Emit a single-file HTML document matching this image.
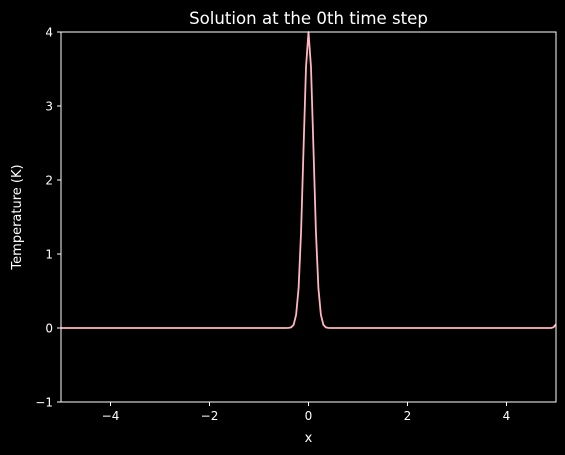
<!DOCTYPE html>
<html><head><meta charset="utf-8"><style>
body{margin:0;background:#000;}
svg{display:block;font-family:"DejaVu Sans","Liberation Sans",sans-serif;}
</style></head><body>
<svg id="chart" width="565" height="455">
<rect width="565" height="455" fill="#000"/>
<text x="308.5" y="24" fill="#fff" font-size="16.6" text-anchor="middle">Solution at the 0th time step</text>
<g id="plot"></g>
<text x="308.5" y="442" fill="#fff" font-size="13" text-anchor="middle">x</text>
<text x="0" y="0" fill="#fff" font-size="13" text-anchor="middle" transform="translate(21,217) rotate(-90)">Temperature (K)</text>
</svg>
<script>
const xTicks=[-4,-2,0,2,4];
const yTicks=[-1,0,1,2,3,4];
const xs=[-5,-0.45,-0.4,-0.35,-0.3,-0.25,-0.2,-0.15,-0.1,-0.05,0,0.05,0.1,0.15,0.2,0.25,0.3,0.35,0.4,0.45,4.9,4.95,5];
const ys=[0,0,0.0013,0.009,0.044,0.18,0.54,1.30,2.43,3.53,4,3.53,2.43,1.30,0.54,0.18,0.044,0.009,0.0013,0,0,0.01,0.05];
const L=61,R=556,T=32,B=402,xmin=-5,xmax=5,ymin=-1,ymax=4;
const sx=v=>L+(v-xmin)/(xmax-xmin)*(R-L);
const sy=v=>B-(v-ymin)/(ymax-ymin)*(B-T);
const ns="http://www.w3.org/2000/svg",g=document.getElementById('plot');
function mk(t,a){const e=document.createElementNS(ns,t);for(const k in a)e.setAttribute(k,a[k]);g.appendChild(e);return e;}
xTicks.forEach(v=>{
const t=mk('line',{x1:sx(v),x2:sx(v),y1:B,y2:B+4,stroke:'#fff'});


const l=mk('text',{x:sx(v),y:B+18,fill:'#fff','font-size':12,'text-anchor':'middle'});
l.textContent=(v<0?'\u2212'+(-v):v);


});
yTicks.forEach(v=>{
const t=mk('line',{x1:L-4,x2:L,y1:sy(v),y2:sy(v),stroke:'#fff'});


const l=mk('text',{x:L-8,y:sy(v)+4.5,fill:'#fff','font-size':12,'text-anchor':'end'});
l.textContent=(v<0?'\u2212'+(-v):v);


});
const p=mk('polyline',{points:xs.map((x,i)=>sx(x)+','+sy(ys[i])).join(' '),fill:'none',stroke:'#ffb6c1','stroke-width':1.8,'stroke-linejoin':'round'});


const f=mk('rect',{x:L,y:T,width:R-L,height:B-T,fill:'none',stroke:'#fff','stroke-width':1});


</script>
</body></html>
